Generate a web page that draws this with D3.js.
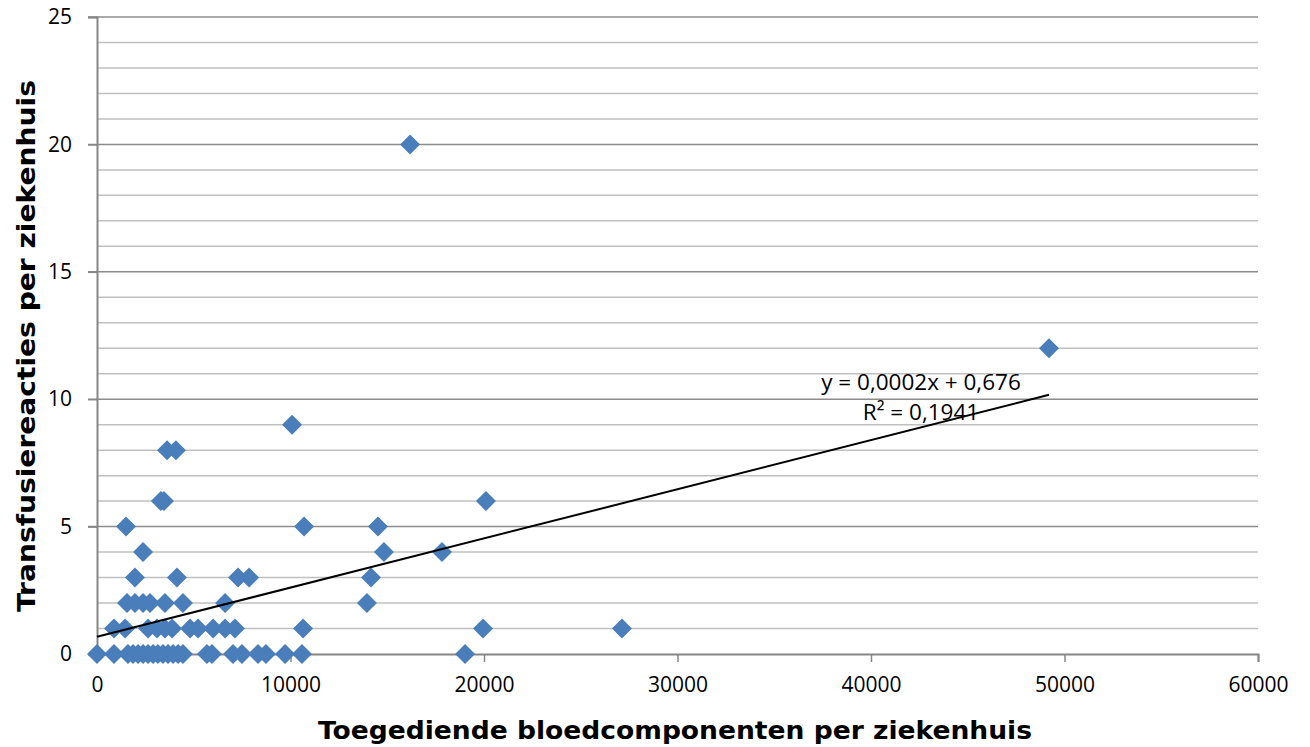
<!DOCTYPE html>
<html>
<head>
<meta charset="utf-8">
<script src="https://cdn.jsdelivr.net/npm/d3@7"></script>
<style>
  body { margin: 0; background: #fff; }
  svg { display: block; }
</style>
</head>
<body>
<script>
let width = 1310,
    height = 747;

// points: x = bloedcomponenten, y = transfusiereacties
let bloedcomponenten = [
    0, 880, 1600, 1860, 2120, 2380, 2640, 2900, 3150, 3410, 3670, 3930, 4190, 4440, 5680, 5940, 7030, 7490, 8320, 8730, 9720, 10590, 19020,
    880, 1450, 2640, 3100, 3510, 3880, 4810, 5220, 6000, 6620, 7130, 10650, 19950, 27130,
    1550, 1960, 2380, 2740, 3510, 4440, 6620, 13950,
    1960, 4130, 7290, 7860, 14160,
    2380, 14830, 17830,
    1500, 10700, 14520,
    3300, 3460, 20100,
    3620, 4080,
    10080,
    49200,
    16180
];
let transfusiereacties = [
    0, 0, 0, 0, 0, 0, 0, 0, 0, 0, 0, 0, 0, 0, 0, 0, 0, 0, 0, 0, 0, 0, 0,
    1, 1, 1, 1, 1, 1, 1, 1, 1, 1, 1, 1, 1, 1,
    2, 2, 2, 2, 2, 2, 2, 2,
    3, 3, 3, 3, 3,
    4, 4, 4,
    5, 5, 5,
    6, 6, 6,
    8, 8,
    9,
    12,
    20
];
let xTicks = [0, 10000, 20000, 30000, 40000, 50000, 60000];
let yMajorTicks = [0, 5, 10, 15, 20, 25];
let yMinorTicks = d3.range(1, 25).filter(v => v % 5 !== 0);

// trendline as printed on the chart
let trendSlope = 0.000193,
    trendIntercept = 0.676;
let trendLabel = ["y = 0,0002x + 0,676", "R\u00b2 = 0,1941"];

let data = bloedcomponenten.map((x, i) => ({ x: x, y: transfusiereacties[i] }));

let svg = d3.select("body").append("svg")
    .attr("width", width)
    .attr("height", height);

svg.append("rect").attr("width", width).attr("height", height).attr("fill", "#fff");

let plotLeft = 97, plotRight = 1258, plotTop = 17, plotBottom = 654;

let x = d3.scaleLinear().domain([0, 60000]).range([plotLeft, plotRight]);
let y = d3.scaleLinear().domain([0, 25]).range([plotBottom, plotTop]);

// minor gridlines
svg.append("g").selectAll("line")
    .data(yMinorTicks)
    .enter().append("line")
    .attr("x1", plotLeft).attr("x2", plotRight)
    .attr("y1", d => y(d)).attr("y2", d => y(d))
    .attr("stroke", "#c0c0c0")
    .attr("stroke-width", 1.5);

// major gridlines (+ tick stub to the left)
svg.append("g").selectAll("line")
    .data(yMajorTicks.filter(d => d > 0))
    .enter().append("line")
    .attr("x1", plotLeft - 9).attr("x2", plotRight)
    .attr("y1", d => y(d)).attr("y2", d => y(d))
    .attr("stroke", "#8c8c8c")
    .attr("stroke-width", 1.5);

// y axis
let yAxis = svg.append("g")
    .attr("transform", "translate(" + plotLeft + ",0)")
    .call(d3.axisLeft(y).tickValues(yMajorTicks).tickSize(9).tickPadding(16));
yAxis.select(".domain").attr("stroke", "#868686").attr("stroke-width", 2);
yAxis.selectAll(".tick line").attr("stroke", "#868686").attr("stroke-width", 1.5);
yAxis.selectAll("text")
    .attr("font-family", "Open Sans")
    .attr("font-size", 21)
    .attr("fill", "#000");

// x axis
let xAxis = svg.append("g")
    .attr("transform", "translate(0," + plotBottom + ")")
    .call(d3.axisBottom(x).tickValues(xTicks).tickFormat(d3.format("d")).tickSize(8).tickPadding(15));
xAxis.select(".domain").attr("stroke", "#868686").attr("stroke-width", 2);
xAxis.selectAll(".tick line").attr("stroke", "#868686").attr("stroke-width", 1.5);
xAxis.selectAll("text")
    .attr("font-family", "Open Sans")
    .attr("font-size", 21)
    .attr("fill", "#000");

// points
svg.append("g").selectAll("path")
    .data(data)
    .enter().append("path")
    .attr("d", d3.symbol().type(d3.symbolSquare).size(200))
    .attr("transform", d => "translate(" + x(d.x) + "," + y(d.y) + ") rotate(45)")
    .attr("fill", "#4a7ebb");

// trendline
let xMin = d3.min(bloedcomponenten), xMax = d3.max(bloedcomponenten);
svg.append("line")
    .attr("x1", x(xMin)).attr("y1", y(trendSlope * xMin + trendIntercept))
    .attr("x2", x(xMax)).attr("y2", y(trendSlope * xMax + trendIntercept))
    .attr("stroke", "#000")
    .attr("stroke-width", 2);

svg.append("g").selectAll("text")
    .data(trendLabel)
    .enter().append("text")
    .attr("x", 921)
    .attr("y", (d, i) => 390 + i * 30)
    .attr("text-anchor", "middle")
    .attr("font-family", "Open Sans")
    .attr("font-size", 22.5)
    .text(d => d);

// axis titles
svg.append("text")
    .attr("x", 318)
    .attr("y", 739)
    .attr("font-family", "DejaVu Sans")
    .attr("font-weight", "bold")
    .attr("font-size", 24)
    .attr("textLength", 714)
    .attr("lengthAdjust", "spacingAndGlyphs")
    .text("Toegediende bloedcomponenten per ziekenhuis");

svg.append("text")
    .attr("transform", "translate(35,612) rotate(-90)")
    .attr("font-family", "DejaVu Sans")
    .attr("font-weight", "bold")
    .attr("font-size", 24)
    .attr("textLength", 532)
    .attr("lengthAdjust", "spacingAndGlyphs")
    .text("Transfusiereacties per ziekenhuis");
</script>
</body>
</html>
